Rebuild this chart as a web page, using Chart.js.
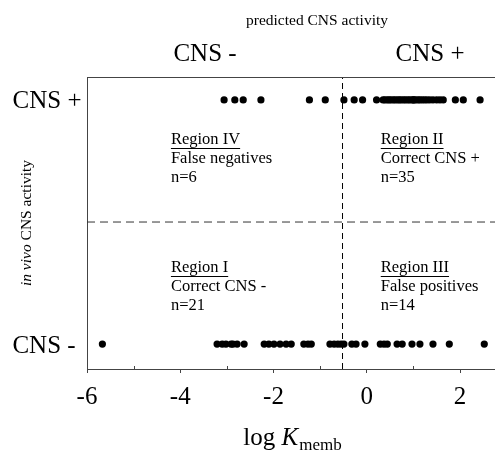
<!DOCTYPE html>
<html>
<head>
<meta charset="utf-8">
<script src="https://cdn.jsdelivr.net/npm/chart.js@4/dist/chart.umd.min.js"></script>
<style>
  html, body { margin: 0; padding: 0; background: #fff; }
  #wrap { width: 495px; height: 456px; }
</style>
</head>
<body>
<div id="wrap"><canvas id="canvasCns"></canvas></div>
<script>
"use strict";

// log Kmemb values, CNS+ compounds (in vivo active)
var cnsPositive = [
    -3.06, -2.83, -2.65, -2.27, -1.23, -0.89,
    -0.49, -0.27, -0.09, 0.21,
    0.35, 0.39, 0.44, 0.48, 0.52, 0.57, 0.61, 0.66, 0.70, 0.74,
    0.79, 0.83, 0.88, 0.92, 0.97, 1.01, 1.05, 1.10, 1.14, 1.19,
    1.24, 1.29, 1.35, 1.42, 1.50, 1.57, 1.64,
    1.90, 2.07, 2.43, 1.00
];

// log Kmemb values, CNS- compounds (in vivo inactive)
var cnsNegative = [
    -5.67,
    -3.21, -3.10, -3.02, -2.91, -2.87, -2.78, -2.63,
    -2.20, -2.10, -1.99, -1.86, -1.73, -1.62,
    -1.35, -1.26, -1.19,
    -0.79, -0.70, -0.62, -0.55,
    -0.49, -0.32, -0.23, -0.04, 0.29, 0.37, 0.44, 0.65, 0.76, 0.97, 1.14, 1.42, 1.77, 2.52
];

var xTicks = [-6, -4, -2, 0, 2];
var xMinorTicks = [-5, -3, -1, 1];
var cutoff = -0.52;
var yLow = -0.102;
var yHigh = 1.094;

var serif = "'Liberation Serif', 'Times New Roman', serif";

function each(arr, fn) { for (var i = 0; i < arr.length; i++) fn(arr[i], i); }

function toPoints(values, y) {
    var pts = [];
    each(values, function (v) { pts.push({ x: v, y: y }); });
    return pts;
}

var textPlugin = {
    id: 'cnsText',
    afterDraw: function (chart) {
        var ctx = chart.ctx;
        var area = chart.chartArea;
        var xs = chart.scales.x;
        var ys = chart.scales.y;
        ctx.save();

        // top frame line
        ctx.strokeStyle = '#444';
        ctx.lineWidth = 1;
        ctx.beginPath();
        ctx.moveTo(area.left, area.top + 0.5);
        ctx.lineTo(area.right, area.top + 0.5);
        ctx.stroke();

        // minor ticks
        each(xMinorTicks, function (t) {
            var px = Math.round(xs.getPixelForValue(t)) + 0.5;
            ctx.beginPath();
            ctx.moveTo(px, area.bottom);
            ctx.lineTo(px, area.bottom - 3);
            ctx.stroke();
        });

        ctx.fillStyle = '#000';
        ctx.textBaseline = 'middle';
        ctx.textAlign = 'center';

        ctx.font = '15.5px ' + serif;
        ctx.fillText('predicted CNS activity', 317, 21);

        ctx.font = '25px ' + serif;
        ctx.fillText('CNS -', 205, 54);
        ctx.fillText('CNS +', 430, 54);
        ctx.fillText('CNS +', 47, ys.getPixelForValue(1) + 1);
        ctx.fillText('CNS -', 44, ys.getPixelForValue(0) + 2);

        // rotated y title with italic "in vivo"
        ctx.save();
        ctx.translate(27, 223);
        ctx.rotate(-Math.PI / 2);
        ctx.font = 'italic 15.5px ' + serif;
        var a = 'in vivo ';
        var wa = ctx.measureText(a).width;
        ctx.font = '15.5px ' + serif;
        var b = 'CNS activity';
        var wb = ctx.measureText(b).width;
        ctx.textAlign = 'left';
        ctx.font = 'italic 15.5px ' + serif;
        ctx.fillText(a, -(wa + wb) / 2, 0);
        ctx.font = '15.5px ' + serif;
        ctx.fillText(b, -(wa + wb) / 2 + wa, 0);
        ctx.restore();

        // x title: log K_memb
        ctx.textAlign = 'left';
        ctx.font = '25px ' + serif;
        var p1 = 'log ';
        var w1 = ctx.measureText(p1).width;
        ctx.font = 'italic 25px ' + serif;
        var p2 = 'K';
        var w2 = ctx.measureText(p2).width;
        ctx.font = '17px ' + serif;
        var p3 = 'memb';
        var w3 = ctx.measureText(p3).width;
        var sx = 292 - (w1 + w2 + w3) / 2;
        ctx.font = '25px ' + serif;
        ctx.fillText(p1, sx, 438);
        ctx.font = 'italic 25px ' + serif;
        ctx.fillText(p2, sx + w1, 438);
        ctx.font = '17px ' + serif;
        ctx.fillText(p3, sx + w1 + w2 + 1, 446);

        // region labels
        function region(x, y, title, l2, l3) {
            ctx.font = '16.5px ' + serif;
            ctx.textAlign = 'left';
            ctx.fillText(title, x, y);
            var w = ctx.measureText(title).width;
            ctx.beginPath();
            ctx.strokeStyle = '#000';
            ctx.moveTo(x, y + 8.5);
            ctx.lineTo(x + w, y + 8.5);
            ctx.stroke();
            ctx.fillText(l2, x, y + 19);
            ctx.fillText(l3, x, y + 38);
        }
        var lx = xs.getPixelForValue(-4.2);
        var rx = xs.getPixelForValue(0.3);
        region(lx, 140, 'Region IV', 'False negatives', 'n=6');
        region(rx, 140, 'Region II', 'Correct CNS +', 'n=35');
        region(lx, 268, 'Region I', 'Correct CNS -', 'n=21');
        region(rx, 268, 'Region III', 'False positives', 'n=14');

        ctx.restore();
    }
};

var context = document.getElementById('canvasCns');
var myChart = new Chart(context, {
    type: 'scatter',
    data: {
        datasets: [{
            label: 'CNS +',
            data: toPoints(cnsPositive, 1),
            backgroundColor: '#000',
            borderColor: '#000',
            pointRadius: 3.6,
            pointBorderWidth: 0
        }, {
            label: 'CNS -',
            data: toPoints(cnsNegative, 0),
            backgroundColor: '#000',
            borderColor: '#000',
            pointRadius: 3.6,
            pointBorderWidth: 0
        }, {
            type: 'line',
            label: 'cutoff',
            data: [{ x: cutoff, y: yLow }, { x: cutoff, y: yHigh }],
            borderColor: '#000',
            borderWidth: 1,
            borderDash: [6, 4],
            pointRadius: 0
        }, {
            type: 'line',
            label: 'split',
            data: [{ x: -6, y: 0.5 }, { x: 2.75, y: 0.5 }],
            borderColor: '#333',
            borderWidth: 1,
            borderDash: [8, 5],
            pointRadius: 0
        }]
    },
    options: {
        responsive: true,
        maintainAspectRatio: false,
        animation: false,
        events: [],
        layout: { autoPadding: false, padding: { left: 87, top: 77, right: 0, bottom: 0 } },
        plugins: { legend: { display: false }, tooltip: { enabled: false } },
        scales: {
            x: {
                type: 'linear',
                min: -6,
                max: 2.75,
                afterFit: function (s) { s.height = 87; },
                afterBuildTicks: function (s) {
                    s.ticks = xTicks.map(function (v) { return { value: v }; });
                },
                ticks: {
                    color: '#000',
                    font: { family: serif, size: 25 },
                    padding: 9,
                    maxRotation: 0
                },
                grid: { drawOnChartArea: false, drawTicks: true, tickLength: 4, color: '#444' },
                border: { color: '#444', width: 1 }
            },
            y: {
                type: 'linear',
                min: yLow,
                max: yHigh,
                afterFit: function (s) { s.width = 0; },
                ticks: { display: false },
                grid: { drawOnChartArea: false, drawTicks: false },
                border: { color: '#444', width: 1 }
            }
        }
    },
    plugins: [textPlugin]
});
</script>
</body>
</html>
